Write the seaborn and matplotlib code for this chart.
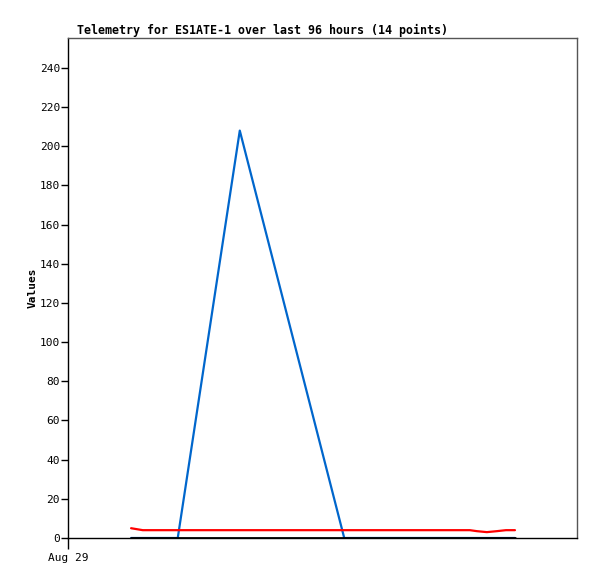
import numpy as np
import pandas as pd
import matplotlib
matplotlib.use('Agg')
import matplotlib.pyplot as plt
import seaborn as sns

# Telemetry data (hours since Aug 29 00:00)
hours = [11.9, 13.0, 14.1, 20.7, 32.4, 52.1, 60.7, 68.3, 75.8, 77.1, 79.0, 80.9, 82.6, 84.3]
series_blue = [0, 0, 0, 0, 208, 0, 0, 0, 0, 0, 0, 0, 0, 0]
series_red = [5, 4.5, 4, 4, 4, 4, 4, 4, 4, 3.5, 3, 3.5, 4, 4]
series_black = [0] * 14
tick_labels = ['Aug 29']

sns.set_style('white')
plt.rcParams['font.family'] = ['DejaVu Sans Mono']
plt.rcParams['text.color'] = 'black'
plt.rcParams['axes.labelcolor'] = 'black'
plt.rcParams['xtick.color'] = 'black'
plt.rcParams['ytick.color'] = 'black'

fig = plt.figure(figsize=(5.97, 5.79), dpi=100)
ax = fig.add_axes([0.1139, 0.0708, 0.8526, 0.8636])

sns.lineplot(x=hours, y=series_blue, color='#0066cc', lw=1.6, ax=ax)
sns.lineplot(x=hours, y=series_red, color='#ff0000', lw=1.6, ax=ax)
sns.lineplot(x=hours, y=series_black, color='black', lw=2.0, ax=ax)

ax.set_xlim(0, 96)
ax.set_ylim(0, 255.3)
ax.set_yticks(range(0, 241, 20))
ax.set_xticks([0])
ax.set_xticklabels(tick_labels)
ax.tick_params(axis='y', direction='out', length=5, width=1, labelsize=8, left=True, pad=0.8)
ax.tick_params(axis='x', direction='out', length=8, width=1, labelsize=8, bottom=True, pad=3)

for s in ['left', 'bottom']:
    ax.spines[s].set_color('black')
    ax.spines[s].set_linewidth(1)
for s in ['top', 'right']:
    ax.spines[s].set_color('#555555')
    ax.spines[s].set_linewidth(1)

ax.set_ylabel('Values', fontsize=8, fontweight='bold', labelpad=1.8)
ax.set_title('Telemetry for ES1ATE-1 over last 96 hours (14 points)', fontsize=8.35,
             fontweight='bold', loc='left', pad=3, x=0.018)

fig.savefig('out.png', dpi=100)
